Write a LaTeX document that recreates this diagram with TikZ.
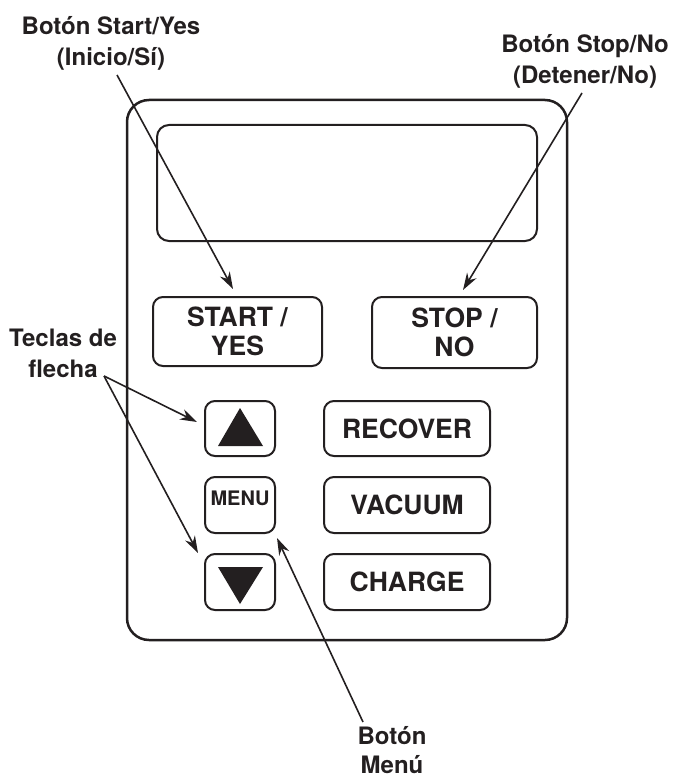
\documentclass[tikz,border=0pt]{standalone}
\usepackage{fontspec}
\setmainfont{TeX Gyre Heros}
\usetikzlibrary{arrows.meta}
\definecolor{ink}{HTML}{231F20}

\tikzset{
  key/.style={draw=ink, line width=2pt, rounded corners=10pt, inner sep=0pt,
    align=center, text=ink, font=\bfseries\fontsize{26.5}{29}\selectfont},
  lbl/.style={align=center, text=ink, font=\bfseries\fontsize{24}{31}\selectfont},
  pointer/.style={draw=ink, line width=1.6pt, -{Stealth[length=17pt,width=11pt]}},
}

\begin{document}
\begin{tikzpicture}[x=1pt,y=-1pt]
  \useasboundingbox (0,0) rectangle (673,781);
  % case and display
  \draw[ink, line width=2.5pt, rounded corners=22pt] (127,100) rectangle (567,640);
  \draw[ink, line width=2pt, rounded corners=12pt] (157,125) rectangle (537,241);

  % keys
  \node[key, minimum width=169pt, minimum height=69pt] (start) at (237.5,331.5) {START /\\YES};
  \node[key, minimum width=165pt, minimum height=71pt] (stop) at (454.5,332.5) {STOP /\\NO};
  \node[key, minimum width=70pt, minimum height=55pt] (up) at (240,428.5) {};
  \node[key, minimum width=70pt, minimum height=56pt, text depth=14pt,
    font=\bfseries\fontsize{20}{24}\selectfont] (menu) at (240,505) {MENU};
  \node[key, minimum width=70pt, minimum height=56pt] (down) at (240,582) {};
  \node[key, minimum width=166pt, minimum height=55pt] (recover) at (407,428.5) {RECOVER};
  \node[key, minimum width=166pt, minimum height=56pt] (vacuum) at (407,505) {VACUUM};
  \node[key, minimum width=166pt, minimum height=56pt] (charge) at (407,582) {CHARGE};
  \fill[ink] (240,408) -- (263,446) -- (218,446) -- cycle;
  \fill[ink] (218,567) -- (263,567) -- (240,604) -- cycle;

  % callouts
  \node[lbl] (startlbl) at (111,43) {Botón Start/Yes\\(Inicio/Sí)};
  \node[lbl] (stoplbl) at (585,61) {Botón Stop/No\\(Detener/No)};
  \node[lbl] (arrowlbl) at (63,353) {Teclas de\\flecha};
  \node[lbl, font=\bfseries\fontsize{24}{29}\selectfont] (menulbl) at (392,750) {Botón\\Menú};

  \coordinate (startfrom) at (117,75);
  \coordinate (startto) at (233,289);
  \coordinate (stopfrom) at (582,93);
  \coordinate (stopto) at (463,290);
  \coordinate (arrowfrom) at (104,376);
  \coordinate (upto) at (197,422);
  \coordinate (downto) at (198,553);
  \coordinate (menufrom) at (363,722);
  \coordinate (menuto) at (277,538);

  \draw[pointer] (startfrom) -- (startto);
  \draw[pointer] (stopfrom) -- (stopto);
  \draw[pointer] (arrowfrom) -- (upto);
  \draw[pointer] (arrowfrom) -- (downto);
  \draw[pointer] (menufrom) -- (menuto);
\end{tikzpicture}
\end{document}
